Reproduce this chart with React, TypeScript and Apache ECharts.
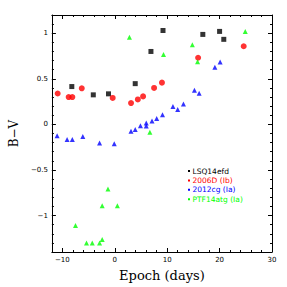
import React, { useEffect, useRef } from "react";
import * as echarts from "echarts";

const lsqX = [-8.2, -4.1, -1.2, 3.9, 6.9, 9.2, 16.8, 20.0, 20.8];
const lsqY = [0.415, 0.324, 0.335, 0.447, 0.8, 1.03, 0.987, 1.02, 0.933];

const sn06X = [-10.9, -8.8, -8.1, -6.3, -0.4, 3.1, 4.4, 5.4, 7.5, 9.0, 15.9, 24.6];
const sn06Y = [0.339, 0.3, 0.3, 0.396, 0.29, 0.234, 0.274, 0.307, 0.4, 0.458, 0.731, 0.857];

const sn12X = [-11.0, -9.1, -8.1, -6.1, -2.9, -0.1, 3.1, 3.9, 4.9, 6.0, 6.0, 7.1, 8.0, 9.1, 11.1, 12.0, 13.1, 15.2, 16.1, 19.1, 20.1];
const sn12Y = [-0.125, -0.165, -0.165, -0.133, -0.205, -0.212, -0.075, -0.057, -0.014, 0.015, -0.017, 0.037, 0.065, 0.105, 0.195, 0.162, 0.224, 0.375, 0.342, 0.626, 0.684];

const ptfX = [-7.5, -5.4, -4.3, -2.9, -2.4, -2.4, -1.3, 0.5, 2.8, 6.7, 9.3, 14.8, 15.8, 24.9];
const ptfY = [-1.108, -1.3, -1.3, -1.3, -1.263, -0.892, -0.708, -0.892, 0.955, -0.086, 0.767, 0.875, 0.688, 1.02];

const seriesNames = ["LSQ14efd", "2006D (Ib)", "2012cg (Ia)", "PTF14atg (Ia)"];
const seriesColors = ["#000000", "#ff0000", "#0000ff", "#00ff00"];

const xMajor = [-10, 0, 10, 20, 30];
const xMinor = [-12, -10, -8, -6, -4, -2, 0, 2, 4, 6, 8, 10, 12, 14, 16, 18, 20, 22, 24, 26, 28, 30];
const yMajor = [-1, -0.5, 0, 0.5, 1];
const yMinor = [-1.4, -1.3, -1.2, -1.1, -1, -0.9, -0.8, -0.7, -0.6, -0.5, -0.4, -0.3, -0.2, -0.1, 0, 0.1, 0.2, 0.3, 0.4, 0.5, 0.6, 0.7, 0.8, 0.9, 1, 1.1, 1.2];

const X_MIN = -12, X_MAX = 30, Y_MIN = -1.4, Y_MAX = 1.2;

const fmt = (v: number) => {
  const r = Math.round(v * 10) / 10;
  return r < 0 ? "\u2212" + String(Math.abs(r)) : String(r);
};

const zip = (xs: number[], ys: number[]) => xs.map((x, i) => [x, ys[i]]);

export default function App() {
  const ref = useRef<HTMLDivElement>(null);
  useEffect(() => {
    if (!ref.current) return;
    const chart = echarts.init(ref.current, null, { renderer: "svg" });
    const line = { show: true, onZero: false, lineStyle: { color: "#000", width: 1 } };
    const noLine = { show: false, onZero: false };
    const labelStyle = { color: "#000", fontSize: 7, fontFamily: "DejaVu Sans" };
    const mkX = (pos: string, major: boolean, withLabel: boolean, extra: any = {}) => ({
      type: "value",
      position: pos,
      min: X_MIN,
      max: X_MAX,
      axisLine: major ? line : noLine,
      axisTick: { show: true, inside: true, length: major ? 4 : 2, customValues: major ? xMajor : xMinor, lineStyle: { color: "#000", width: 1 } },
      axisLabel: withLabel ? { show: true, customValues: xMajor, formatter: fmt, margin: 4, ...labelStyle } : { show: false },
      splitLine: { show: false },
      ...extra,
    });
    const mkY = (pos: string, major: boolean, withLabel: boolean, extra: any = {}) => ({
      type: "value",
      position: pos,
      min: Y_MIN,
      max: Y_MAX,
      axisLine: major ? line : noLine,
      axisTick: { show: true, inside: true, length: major ? 4 : 2, customValues: major ? yMajor : yMinor, lineStyle: { color: "#000", width: 1 } },
      axisLabel: withLabel ? { show: true, customValues: yMajor, formatter: fmt, margin: 4, ...labelStyle } : { show: false },
      splitLine: { show: false },
      ...extra,
    });
    const legendTop = 171;
    const legendGap = 9.4;
    const legendGraphics: any[] = [];
    seriesNames.forEach((n, i) => {
      legendGraphics.push({
        type: "rect",
        shape: { x: 188, y: legendTop + i * legendGap - 1, width: 2, height: 2 },
        style: { fill: seriesColors[i] },
      });
      legendGraphics.push({
        type: "text",
        x: 192.5,
        y: legendTop + i * legendGap,
        style: { text: n, fill: seriesColors[i], font: "7.5px 'DejaVu Sans'", verticalAlign: "middle", align: "left" },
      });
    });
    chart.setOption({
      animation: false,
      backgroundColor: "#fff",
      grid: { left: 31, right: 15, top: 15, bottom: 31 },
      xAxis: [
        mkX("bottom", true, true, {
          name: "Epoch (days)",
          nameLocation: "middle",
          nameGap: 17,
          nameTextStyle: { fontSize: 13, fontFamily: "DejaVu Serif", color: "#000" },
        }),
        mkX("bottom", false, false),
        mkX("top", true, false),
        mkX("top", false, false),
      ],
      yAxis: [
        mkY("left", true, true, {
          name: "B\u2212V",
          nameLocation: "middle",
          nameGap: 26,
          nameTextStyle: { fontSize: 12, fontFamily: "DejaVu Serif", color: "#000" },
        }),
        mkY("left", false, false),
        mkY("right", true, false),
        mkY("right", false, false),
      ],
      graphic: legendGraphics,
      series: [
        { name: seriesNames[0], type: "scatter", symbol: "rect", symbolSize: 5, itemStyle: { color: seriesColors[0] }, data: zip(lsqX, lsqY) },
        { name: seriesNames[1], type: "scatter", symbol: "circle", symbolSize: 6, itemStyle: { color: seriesColors[1] }, data: zip(sn06X, sn06Y) },
        { name: seriesNames[2], type: "scatter", symbol: "triangle", symbolSize: 5, itemStyle: { color: seriesColors[2] }, data: zip(sn12X, sn12Y) },
        { name: seriesNames[3], type: "scatter", symbol: "triangle", symbolSize: 5, itemStyle: { color: seriesColors[3] }, data: zip(ptfX, ptfY) },
      ],
    });
    return () => chart.dispose();
  }, []);
  return <div ref={ref} style={{ width: 287, height: 287, position: "absolute", left: 0, top: 0 }} />;
}
